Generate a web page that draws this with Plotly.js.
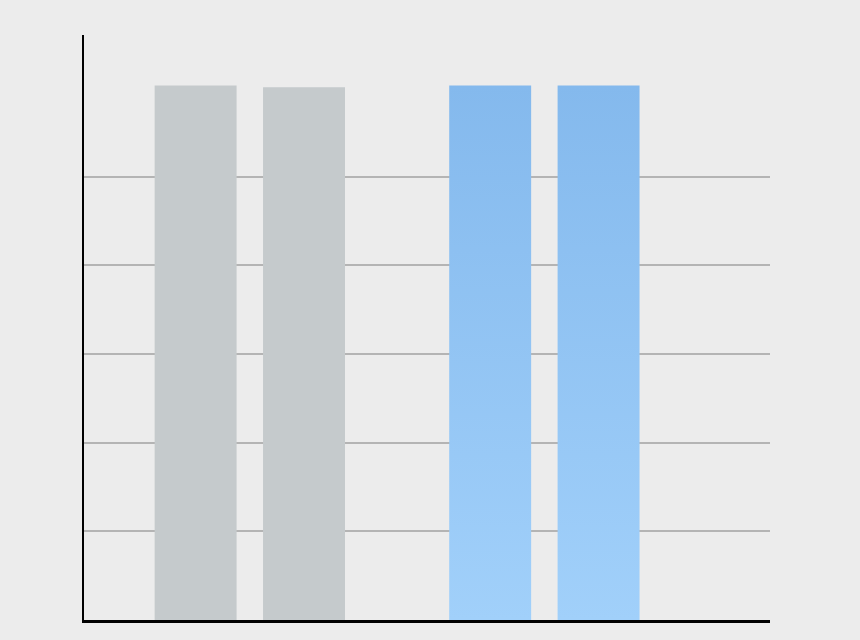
<!DOCTYPE html>
<html>
<head>
<meta charset="utf-8">
<script src="https://cdn.plot.ly/plotly-3.0.1.min.js"></script>
<style>
  html, body { margin: 0; padding: 0; background: #ececec; }
  #chart { width: 860px; height: 640px; }
</style>
</head>
<body>
<div id="chart"></div>
<script>
// two groups, two bars each
var groups = ['Group 1', 'Group 2'];
var series_a = [6.03, 6.03];
var series_b = [6.01, 6.03];
var group_colors = ['#c5cacc', '#84baee'];
var grid_values = [1, 2, 3, 4, 5];

var data = [
    {
        type: 'bar',
        x: groups,
        y: series_a,
        marker: { color: group_colors, line: { width: 0 } },
        hoverinfo: 'skip'
    },
    {
        type: 'bar',
        x: groups,
        y: series_b,
        marker: { color: group_colors, line: { width: 0 } },
        hoverinfo: 'skip'
    }
];

var layout = {
    width: 860,
    height: 640,
    margin: { l: 84, r: 90, t: 35, b: 20 },
    paper_bgcolor: '#ececec',
    plot_bgcolor: '#ececec',
    showlegend: false,
    barmode: 'group',
    bargap: 0.264,
    bargroupgap: 0.244,
    xaxis: {
        type: 'category',
        range: [-0.563, 1.766],
        showgrid: false,
        showticklabels: false,
        ticks: '',
        showline: true,
        linecolor: '#000000',
        linewidth: 3,
        zeroline: false
    },
    yaxis: {
        range: [0, 6.6],
        tickvals: grid_values,
        showticklabels: false,
        ticks: '',
        showgrid: true,
        gridcolor: '#b4b4b4',
        gridwidth: 2,
        showline: true,
        linecolor: '#000000',
        linewidth: 2.5,
        zeroline: false
    }
};

var config = { displayModeBar: false, staticPlot: true };

Plotly.newPlot('chart', data, layout, config).then(function (gd) {
    // blue bars get a vertical gradient, plotly has none for bars
    var svg = gd.querySelector('svg.main-svg');
    var ns = 'http://www.w3.org/2000/svg';
    var defs = svg.querySelector('defs');
    var grad = document.createElementNS(ns, 'linearGradient');
    grad.setAttribute('id', 'blue_grad');
    grad.setAttribute('x1', '0');
    grad.setAttribute('y1', '0');
    grad.setAttribute('x2', '0');
    grad.setAttribute('y2', '1');
    [['0', '#84b9ed'], ['1', '#a1d0fa']].forEach(function (s) {
        var stop = document.createElementNS(ns, 'stop');
        stop.setAttribute('offset', s[0]);
        stop.setAttribute('stop-color', s[1]);
        grad.appendChild(stop);
    });
    defs.appendChild(grad);

    gd.querySelectorAll('.bars .point path').forEach(function (p) {
        if (p.style.fill.replace(/\s/g, '') == 'rgb(132,186,238)') {
            p.style.fill = 'url(#blue_grad)';
        }
    });
});
</script>
</body>
</html>
